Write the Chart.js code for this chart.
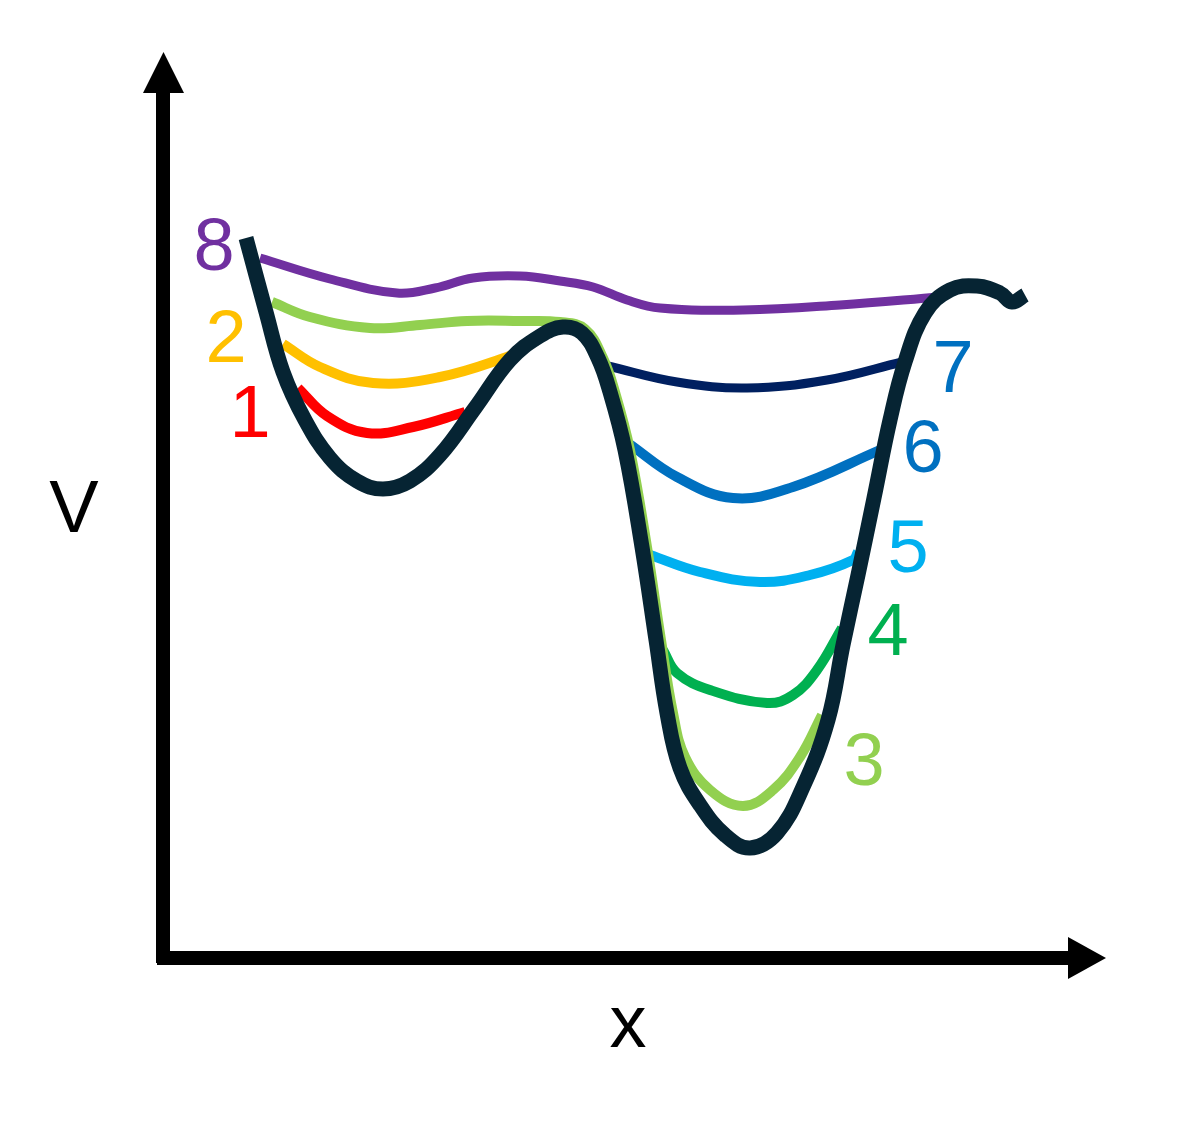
<!DOCTYPE html>
<html lang="en">
<head>
    <meta charset="UTF-8">
    <title>Potential energy curve V(x)</title>
    <script src="https://cdn.jsdelivr.net/npm/chart.js"></script>
    <style>
        body { margin: 0; background: #fff; }
        #wrap { width: 1191px; height: 1121px; }
    </style>
</head>
<body>
<div id="wrap"><canvas id="chart"></canvas></div>
<script>
    // values (x, V in arbitrary units, origin at the axis corner)
    var potentialX = [83, 103, 120, 142, 167, 194, 220, 247, 277, 312, 347, 377, 400, 419, 435, 447, 462, 479, 493, 504, 517, 537, 562, 587, 614, 640, 665, 680, 695, 711, 727, 742, 762, 787, 814, 837, 849, 862];
    var potentialV = [722, 648, 588, 540, 502, 479, 471, 479, 505, 552, 600, 624, 633, 627, 602, 568, 510, 413, 320, 247, 192, 155, 125, 112, 127, 173, 240, 315, 385, 462, 540, 598, 647, 670, 674, 667, 658, 665];

    var path1X = [135, 164, 204, 250, 302];
    var path1V = [572, 544, 527, 533, 548];
    var path2X = [120, 157, 210, 277, 344, 357];
    var path2V = [616, 593, 577, 583, 603, 610];
    var path3X = [109, 147, 207, 257, 304, 357, 397, 422, 440, 452, 467, 484, 498, 510, 522, 547, 580, 610, 637, 659];
    var path3V = [658, 643, 632, 635, 639, 639, 638, 631, 602, 568, 510, 413, 320, 247, 203, 170, 154, 170, 203, 245];
    var path4X = [500, 514, 547, 604, 630, 654, 679];
    var path4V = [310, 287, 270, 257, 265, 290, 332];
    var path5X = [487, 537, 597, 647, 690, 695];
    var path5V = [405, 388, 378, 385, 400, 408];
    var path6X = [465, 514, 570, 630, 717];
    var path6V = [517, 483, 462, 473, 510];
    var path7X = [445, 514, 584, 664, 739];
    var path7V = [594, 578, 572, 580, 598];
    var path8X = [97, 167, 234, 272, 310, 357, 397, 430, 464, 497, 580, 677, 777];
    var path8V = [702, 681, 667, 672, 682, 684, 679, 673, 660, 652, 650, 655, 663];

    var pathColors = ['#FF0000', '#FFC000', '#92D050', '#00B050', '#00B0F0', '#0070C0', '#002060', '#7030A0'];
    var labelText = ['1', '2', '3', '4', '5', '6', '7', '8'];
    var labelColors = ['#FF0000', '#FFC000', '#92D050', '#00B050', '#00B0F0', '#0070C0', '#0070C0', '#7030A0'];
    var labelX = [87, 63, 701, 725, 745, 760, 790, 51];
    var labelV = [523, 598, 175, 305, 388, 488, 568, 690];

    function pts(xs, vs) {
        return xs.map(function (x, i) { return { x: x, y: vs[i] }; });
    }

    var pathsX = [path1X, path2X, path3X, path4X, path5X, path6X, path7X, path8X];
    var pathsV = [path1V, path2V, path3V, path4V, path5V, path6V, path7V, path8V];

    var datasets = [{
        data: pts(potentialX, potentialV),
        borderColor: '#062433',
        borderWidth: 15,
        tension: 0.4,
        borderJoinStyle: 'round'
    }];
    pathsX.forEach(function (xs, i) {
        datasets.push({
            data: pts(xs, pathsV[i]),
            borderColor: pathColors[i],
            borderWidth: (i === 6 || i === 7) ? 9 : 10,
            tension: 0.4,
            borderJoinStyle: 'round'
        });
    });
    // axis shafts
    datasets.push({ data: [{ x: 0, y: -3 }, { x: 0, y: 868 }], borderColor: '#000', borderWidth: 14, tension: 0 });
    datasets.push({ data: [{ x: -6, y: 2 }, { x: 906, y: 2 }], borderColor: '#000', borderWidth: 14, tension: 0 });

    var extras = {
        id: 'extras',
        afterDatasetsDraw: function (chart) {
            var ctx = chart.ctx;
            var sx = chart.scales.x, sy = chart.scales.y;
            function px(x) { return sx.getPixelForValue(x); }
            function py(v) { return sy.getPixelForValue(v); }
            ctx.save();
            ctx.fillStyle = '#000';
            // arrow heads
            ctx.beginPath();
            ctx.moveTo(px(-20), py(867));
            ctx.lineTo(px(21), py(867));
            ctx.lineTo(px(0.5), py(908));
            ctx.closePath();
            ctx.fill();
            ctx.beginPath();
            ctx.moveTo(px(905), py(23));
            ctx.lineTo(px(905), py(-19));
            ctx.lineTo(px(943), py(2));
            ctx.closePath();
            ctx.fill();
            // labels
            ctx.font = '74px "Liberation Sans", Arial, sans-serif';
            ctx.textAlign = 'center';
            ctx.textBaseline = 'alphabetic';
            labelText.forEach(function (t, i) {
                ctx.fillStyle = labelColors[i];
                ctx.fillText(t, px(labelX[i]), py(labelV[i]));
            });
            ctx.fillStyle = '#000';
            ctx.fillText('V', px(-89), py(428));
            ctx.fillText('x', px(465), py(-87));
            ctx.restore();
        }
    };

    new Chart(document.getElementById('chart'), {
        type: 'scatter',
        data: { datasets: datasets },
        options: {
            responsive: true,
            maintainAspectRatio: false,
            animation: false,
            layout: { padding: 0 },
            showLine: true,
            elements: { point: { radius: 0, hoverRadius: 0 } },
            plugins: { legend: { display: false }, tooltip: { enabled: false } },
            scales: {
                x: { type: 'linear', display: false, min: -163, max: 1028 },
                y: { type: 'linear', display: false, min: -161, max: 960 }
            }
        },
        plugins: [extras]
    });
</script>
</body>
</html>
